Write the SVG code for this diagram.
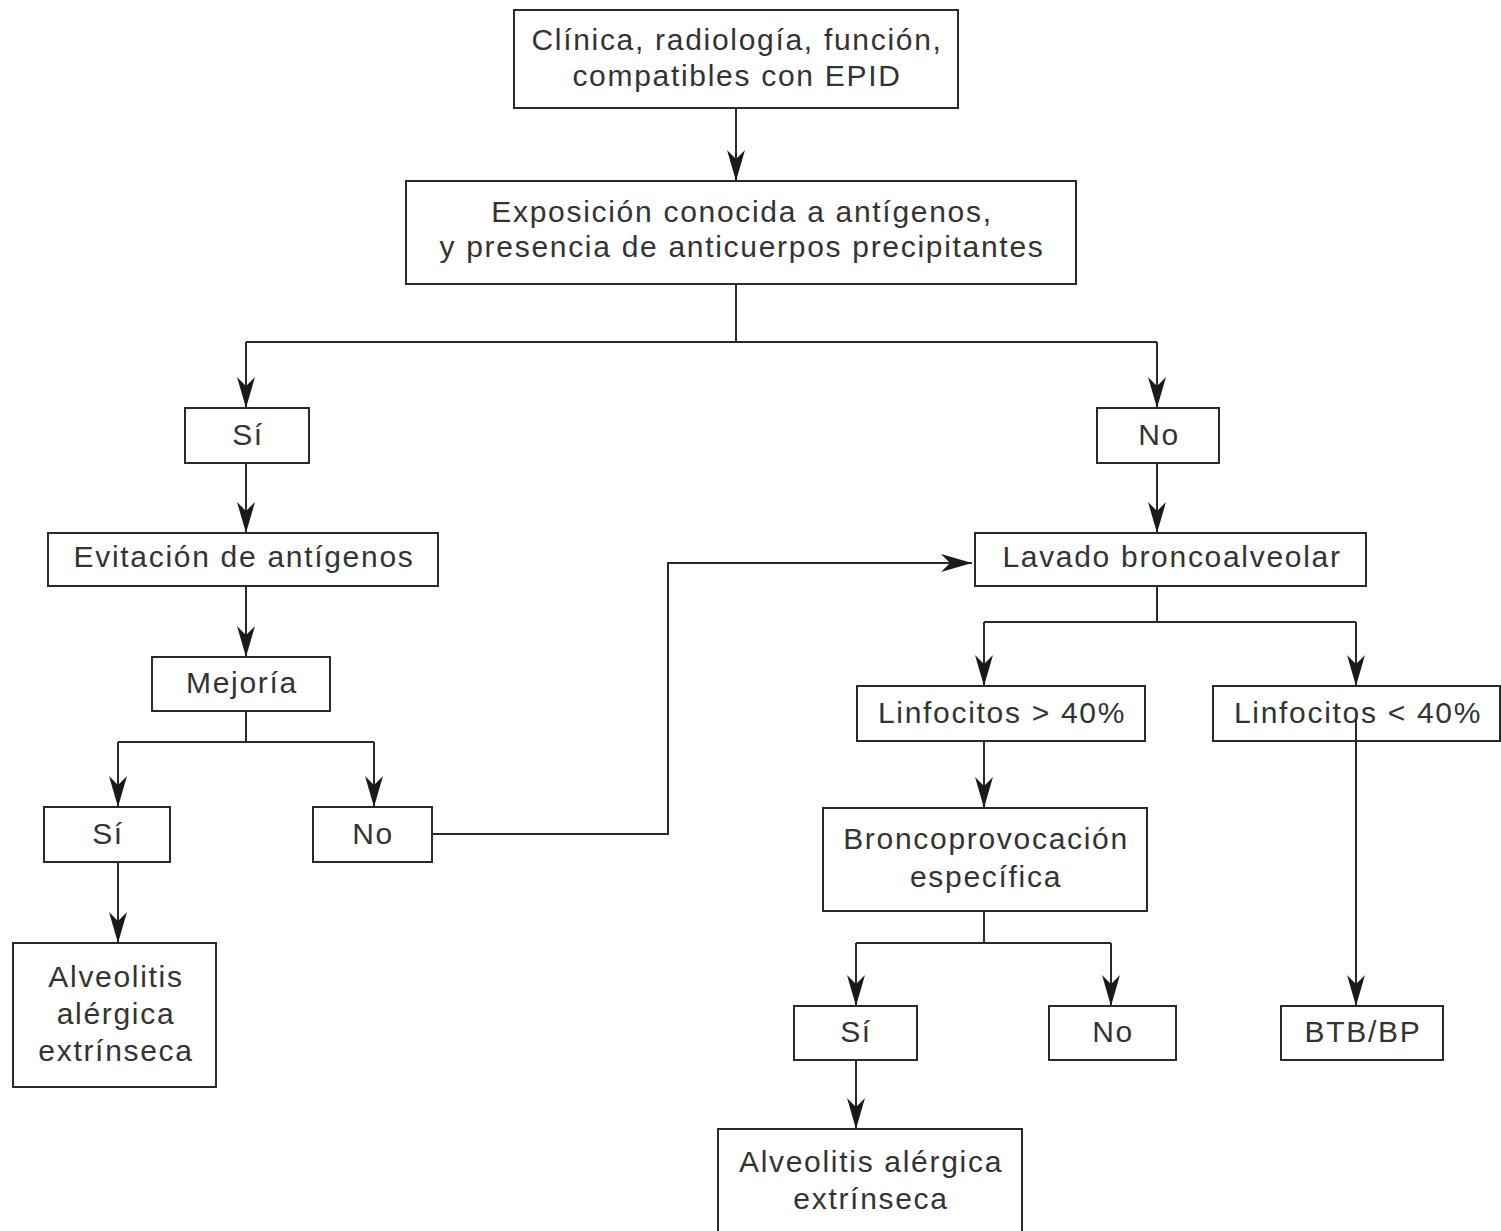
<svg xmlns="http://www.w3.org/2000/svg" width="1501" height="1231" viewBox="0 0 1501 1231">
<defs>
<marker id="ah" markerUnits="userSpaceOnUse" markerWidth="34" markerHeight="20" viewBox="-32 -10 34 20" refX="0" refY="0" orient="auto">
<path d="M0,0 L-31,-9 L-22,0 L-31,9 Z" fill="#1a1a1a"/>
</marker>
<style>
.b{fill:#fff;stroke:#2a2a2a;stroke-width:2}
.t{font-family:"Liberation Sans",Arial,sans-serif;font-size:30px;letter-spacing:1.7px;fill:#333;text-anchor:middle}
.c{fill:none;stroke:#2a2a2a;stroke-width:2}
</style>
</defs>
<rect width="1501" height="1231" fill="#fff"/>
<g id="connectors">
<path class="c" d="M736,108 V181" marker-end="url(#ah)"/>
<path class="c" d="M736,284 V342 M246,342 H1157"/>
<path class="c" d="M246,342 V408" marker-end="url(#ah)"/>
<path class="c" d="M1157,342 V408" marker-end="url(#ah)"/>
<path class="c" d="M246,463 V533" marker-end="url(#ah)"/>
<path class="c" d="M1157,463 V533" marker-end="url(#ah)"/>
<path class="c" d="M246,586 V657" marker-end="url(#ah)"/>
<path class="c" d="M246,711 V742 M118,742 H374"/>
<path class="c" d="M118,742 V807" marker-end="url(#ah)"/>
<path class="c" d="M374,742 V807" marker-end="url(#ah)"/>
<path class="c" d="M118,862 V943" marker-end="url(#ah)"/>
<path class="c" d="M432,834 H668 V563 H972" marker-end="url(#ah)"/>
<path class="c" d="M1157,586 V622 M984,622 H1356"/>
<path class="c" d="M984,622 V686" marker-end="url(#ah)"/>
<path class="c" d="M1356,622 V686" marker-end="url(#ah)"/>
<path class="c" d="M984,741 V808" marker-end="url(#ah)"/>
<path class="c" d="M984,911 V943 M856,943 H1111"/>
<path class="c" d="M856,943 V1006" marker-end="url(#ah)"/>
<path class="c" d="M1111,943 V1006" marker-end="url(#ah)"/>
<path class="c" d="M856,1060 V1129" marker-end="url(#ah)"/>
</g>
<g id="n1"><rect class="b" x="514" y="10" width="444" height="98"/><text class="t" x="737" y="50">Clínica, radiología, función,</text><text class="t" x="737" y="86">compatibles con EPID</text></g>
<g id="n2"><rect class="b" x="406" y="181" width="670" height="103"/><text class="t" x="742" y="222">Exposición conocida a antígenos,</text><text class="t" x="742" y="257">y presencia de anticuerpos precipitantes</text></g>
<g id="n3"><rect class="b" x="185" y="408" width="124" height="55"/><text class="t" x="248" y="445">Sí</text></g>
<g id="n4"><rect class="b" x="1097" y="408" width="122" height="55"/><text class="t" x="1159" y="445">No</text></g>
<g id="n5"><rect class="b" x="48" y="533" width="390" height="53"/><text class="t" x="244" y="567">Evitación de antígenos</text></g>
<g id="n6"><rect class="b" x="975" y="533" width="391" height="53"/><text class="t" x="1172" y="567">Lavado broncoalveolar</text></g>
<g id="n7"><rect class="b" x="152" y="657" width="178" height="54"/><text class="t" x="242" y="693">Mejoría</text></g>
<g id="n8"><rect class="b" x="857" y="686" width="288" height="55"/><text class="t" x="1002" y="723">Linfocitos &gt; 40%</text></g>
<g id="n9"><rect class="b" x="1213" y="686" width="287" height="55"/><text class="t" x="1358" y="723">Linfocitos &lt; 40%</text></g>
<path class="c" d="M1356,718 V1006" marker-end="url(#ah)"/>
<g id="n10"><rect class="b" x="44" y="807" width="126" height="55"/><text class="t" x="108" y="844">Sí</text></g>
<g id="n11"><rect class="b" x="313" y="807" width="119" height="55"/><text class="t" x="373" y="844">No</text></g>
<g id="n12"><rect class="b" x="823" y="808" width="324" height="103"/><text class="t" x="986" y="849">Broncoprovocación</text><text class="t" x="986" y="887">específica</text></g>
<g id="n13"><rect class="b" x="13" y="943" width="203" height="144"/><text class="t" x="116" y="987">Alveolitis</text><text class="t" x="116" y="1024">alérgica</text><text class="t" x="116" y="1061">extrínseca</text></g>
<g id="n14"><rect class="b" x="794" y="1006" width="123" height="54"/><text class="t" x="856" y="1042">Sí</text></g>
<g id="n15"><rect class="b" x="1049" y="1006" width="127" height="54"/><text class="t" x="1113" y="1042">No</text></g>
<g id="n16"><rect class="b" x="1281" y="1006" width="162" height="54"/><text class="t" x="1363" y="1042">BTB/BP</text></g>
<g id="n17"><rect class="b" x="718" y="1129" width="304" height="120"/><text class="t" x="871" y="1172">Alveolitis alérgica</text><text class="t" x="871" y="1209">extrínseca</text></g>
</svg>
